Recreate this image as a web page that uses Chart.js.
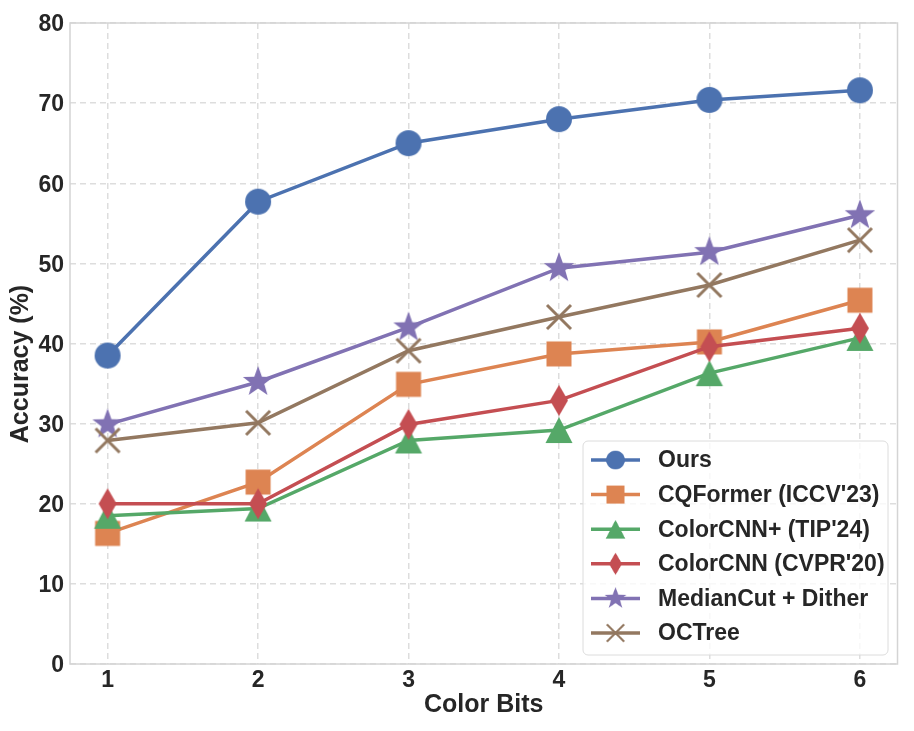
<!DOCTYPE html>
<html>
<head>
<meta charset="utf-8">
<script src="https://cdn.jsdelivr.net/npm/chart.js@4.4.0/dist/chart.umd.min.js"></script>
<style>
	html, body { margin: 0; padding: 0; background: #fff; }
	#wrap { width: 914px; height: 731px; }
</style>
</head>
<body>
<div id="wrap"><canvas id="myChart" width="914" height="731"></canvas></div>
<script>
// 데이터
const bits = [1, 2, 3, 4, 5, 6];
const ours = [38.5, 57.7, 65.0, 68.0, 70.4, 71.6];
const cqformer = [16.3, 22.7, 34.9, 38.7, 40.2, 45.4];
const colorcnnPlus = [18.5, 19.4, 27.9, 29.2, 36.3, 40.7];
const colorcnn = [20.0, 20.0, 29.9, 32.9, 39.6, 41.9];
const medianCut = [29.9, 35.2, 42.0, 49.4, 51.4, 56.0];
const octree = [27.9, 30.1, 39.1, 43.3, 47.3, 52.9];
const yTicks = [0, 10, 20, 30, 40, 50, 60, 70, 80];

const FONT = '"Liberation Sans", Arial, sans-serif';
const TXT = '#262626';

// 마커 이미지 만들기 (canvas -> pointStyle)
function makeMarker(kind, color){
	const c = document.createElement('canvas');
	c.width = 36; c.height = 36;
	const g = c.getContext('2d');
	g.translate(18, 18);
	g.fillStyle = color;
	g.strokeStyle = color;
	g.beginPath();
	if( kind == 'circle' ){
		g.arc(0, 0, 13, 0, Math.PI * 2);
		g.fill();
	} else if( kind == 'square' ){
		g.fillRect(-12.5, -12.5, 25, 25);
	} else if( kind == 'triangle' ){
		g.moveTo(0, -13); g.lineTo(13.5, 13); g.lineTo(-13.5, 13); g.closePath();
		g.fill();
	} else if( kind == 'diamond' ){
		g.moveTo(0, -15.5); g.lineTo(9, 0); g.lineTo(0, 15.5); g.lineTo(-9, 0); g.closePath();
		g.fill();
	} else if( kind == 'star' ){
		for( let i = 0; i < 10; i++ ){
			let r = i % 2 == 0 ? 16 : 6.5;
			let a = -Math.PI / 2 + i * Math.PI / 5;
			if( i == 0 ) g.moveTo(r * Math.cos(a), r * Math.sin(a));
			else g.lineTo(r * Math.cos(a), r * Math.sin(a));
		}
		g.closePath();
		g.fill();
	} else if( kind == 'x' ){
		g.lineWidth = 3;
		g.moveTo(-12, -12); g.lineTo(12, 12);
		g.moveTo(12, -12); g.lineTo(-12, 12);
		g.stroke();
	}
	return c;
}

function toPoints(arr){
	return bits.map( (b, i) => ({ x: b, y: arr[i] }) );
}

const series = [
	{ label: 'Ours', data: ours, color: '#4C72B0', marker: 'circle' },
	{ label: "CQFormer (ICCV'23)", data: cqformer, color: '#DD8452', marker: 'square' },
	{ label: "ColorCNN+ (TIP'24)", data: colorcnnPlus, color: '#55A868', marker: 'triangle' },
	{ label: "ColorCNN (CVPR'20)", data: colorcnn, color: '#C44E52', marker: 'diamond' },
	{ label: 'MedianCut + Dither', data: medianCut, color: '#8172B3', marker: 'star' },
	{ label: 'OCTree', data: octree, color: '#937860', marker: 'x' }
];

const datasets = series.map( (s, i) => ({
	label: s.label,
	data: toPoints(s.data),
	borderColor: s.color,
	backgroundColor: s.color,
	borderWidth: 3.5,
	pointStyle: makeMarker(s.marker, s.color),
	pointRadius: 13,
	pointHoverRadius: 13,
	order: series.length - i // 뒤에 있는 시리즈가 위에 그려짐
}) );

// 프레임 + 범례 + y축 제목
const extras = {
	id: 'extras',
	beforeDatasetsDraw(chart){
		const { ctx, chartArea: a } = chart;
		ctx.save();
		ctx.strokeStyle = '#d4d4d4';
		ctx.lineWidth = 1.5;
		ctx.setLineDash([]);
		ctx.strokeRect(a.left, a.top, a.right - a.left, a.bottom - a.top);
		ctx.restore();
	},
	afterDraw(chart){
		const ctx = chart.ctx;
		ctx.save();
		// y축 제목
		ctx.translate(21, 364);
		ctx.rotate(-Math.PI / 2);
		ctx.fillStyle = TXT;
		ctx.font = 'bold 25px ' + FONT;
		ctx.textAlign = 'center';
		ctx.textBaseline = 'middle';
		ctx.fillText('Accuracy (%)', 0, 0);
		ctx.restore();

		// 범례
		const bx = 583, by = 441, bw = 305, bh = 214;
		ctx.save();
		ctx.beginPath();
		ctx.roundRect(bx, by, bw, bh, 5);
		ctx.fillStyle = 'rgba(255,255,255,0.8)';
		ctx.fill();
		ctx.strokeStyle = '#dcdcdc';
		ctx.lineWidth = 1;
		ctx.stroke();
		chart.data.datasets.forEach( (d, i) => {
			let cy = 460 + i * 34.6;
			ctx.strokeStyle = d.borderColor;
			ctx.lineWidth = 3.5;
			ctx.beginPath();
			ctx.moveTo(591, cy); ctx.lineTo(640, cy);
			ctx.stroke();
			let img = d.pointStyle, sc = 0.72;
			ctx.drawImage(img, 615.5 - img.width * sc / 2, cy - img.height * sc / 2, img.width * sc, img.height * sc);
			ctx.fillStyle = TXT;
			ctx.font = 'bold 23px ' + FONT;
			ctx.textAlign = 'left';
			ctx.textBaseline = 'middle';
			ctx.fillText(d.label, 658, cy + 1);
		});
		ctx.restore();
	}
};

const ctx = document.getElementById('myChart');
new Chart(ctx, {
	type: 'line',
	data: { datasets: datasets },
	options: {
		responsive: false,
		animation: false,
		devicePixelRatio: 1,
		layout: { padding: { top: 23, right: 14, left: 0, bottom: 11 } },
		plugins: { legend: { display: false }, tooltip: { enabled: false } },
		scales: {
			x: {
				type: 'linear',
				min: 0.75,
				max: 6.25,
				afterBuildTicks: (s) => { s.ticks = bits.map( v => ({ value: v }) ); },
				afterFit: (s) => { s.height = 56; },
				ticks: { color: TXT, padding: 3, font: { family: FONT, size: 23, weight: 'bold' } },
				grid: { color: '#dddddd', lineWidth: 1.5, drawTicks: false },
				border: { display: false, dash: [6, 4] },
				title: { display: true, text: 'Color Bits', color: TXT, padding: { top: 0, bottom: 0 },
					font: { family: FONT, size: 25, weight: 'bold' } }
			},
			y: {
				min: 0,
				max: 80,
				afterBuildTicks: (s) => { s.ticks = yTicks.map( v => ({ value: v }) ); },
				afterFit: (s) => { s.width = 70; },
				ticks: { color: TXT, padding: 6, labelOffset: 2, font: { family: FONT, size: 23, weight: 'bold' } },
				grid: { color: '#dddddd', lineWidth: 1.5, drawTicks: false },
				border: { display: false, dash: [6, 4] }
			}
		}
	},
	plugins: [extras]
});
</script>
</body>
</html>
